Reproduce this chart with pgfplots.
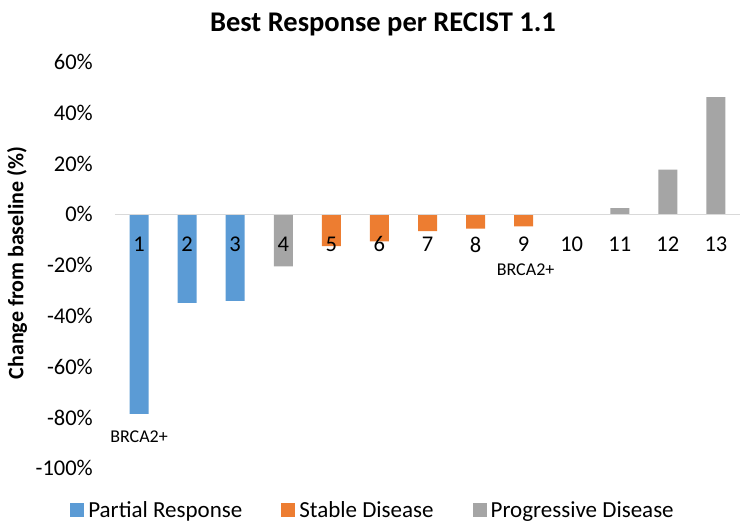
\documentclass[border=0pt]{standalone}
\usepackage{pgfplots}
\pgfplotsset{compat=1.18}
\usepackage{fontspec}
\setmainfont{Carlito}
\definecolor{prc}{HTML}{5B9BD5}
\definecolor{sdc}{HTML}{ED7D31}
\definecolor{pdc}{HTML}{A5A5A5}
\definecolor{zlc}{HTML}{D9D9D9}
\begin{document}
\begin{tikzpicture}
\path[use as bounding box] (0,0) rectangle (749bp,528bp);
\begin{axis}[
  at={(115bp,59.6bp)}, anchor=south west,
  scale only axis, width=625bp, height=406.4bp,
  xmin=0.5, xmax=13.5, ymin=-100, ymax=60,
  axis on top,
  axis x line*=middle, axis y line*=left,
  x axis line style={draw=zlc, line width=1.3bp, -},
  y axis line style={draw=none, -},
  xtick={1,2,3,4,5,6,7,8,9,10,11,12,13},
  xticklabels={1,2,3,4,5,6,7,8,9,10,11,12,13},
  ytick={-100,-80,-60,-40,-20,0,20,40,60},
  yticklabels={-100\%,-80\%,-60\%,-40\%,-20\%,0\%,20\%,40\%,60\%},
  major tick length=0pt,
  tick style={draw=none},
  xticklabel style={anchor=center, yshift=-30bp, font=\fontsize{22.5bp}{27bp}\selectfont},
  yticklabel style={anchor=east, inner sep=0pt, xshift=-22bp, font=\fontsize{22.5bp}{27bp}\selectfont},
  ybar, bar width=19bp, bar shift=0pt,
  legend image code/.code={\fill[#1] (0bp,-7bp) rectangle (14bp,7bp); \path (16bp,0bp);},
  legend style={at={(0.4128,-0.1024)}, anchor=center, draw=none, fill=none,
    legend columns=3, font=\fontsize{23bp}{27bp}\selectfont,
    /tikz/every even column/.append style={column sep=37bp}},
  clip=false,
]
\addplot[fill=prc, draw=none] coordinates {(1,-78.5) (2,-34.8) (3,-34.0)};
\addlegendentry{Partial Response}
\addplot[fill=sdc, draw=none] coordinates {(5,-12.5) (6,-10.6) (7,-6.6) (8,-5.6) (9,-4.7)};
\addlegendentry{Stable Disease}
\addplot[fill=pdc, draw=none] coordinates {(4,-20.5) (10,0) (11,2.5) (12,17.6) (13,46.2)};
\addlegendentry{Progressive Disease}
\node[font=\fontsize{18bp}{22bp}\selectfont] at (axis cs:1,-87.4) {BRCA2+};
\node[font=\fontsize{18bp}{22bp}\selectfont] at (axis cs:9.04,-21.7) {BRCA2+};
\end{axis}
\node[font=\bfseries\fontsize{28.5bp}{33bp}\selectfont, anchor=base] at (383bp,496bp) {Best Response per RECIST 1.1};
\node[rotate=90, font=\bfseries\fontsize{22bp}{26bp}\selectfont] at (17bp,265bp) {Change from baseline (\%)};
\end{tikzpicture}
\end{document}
